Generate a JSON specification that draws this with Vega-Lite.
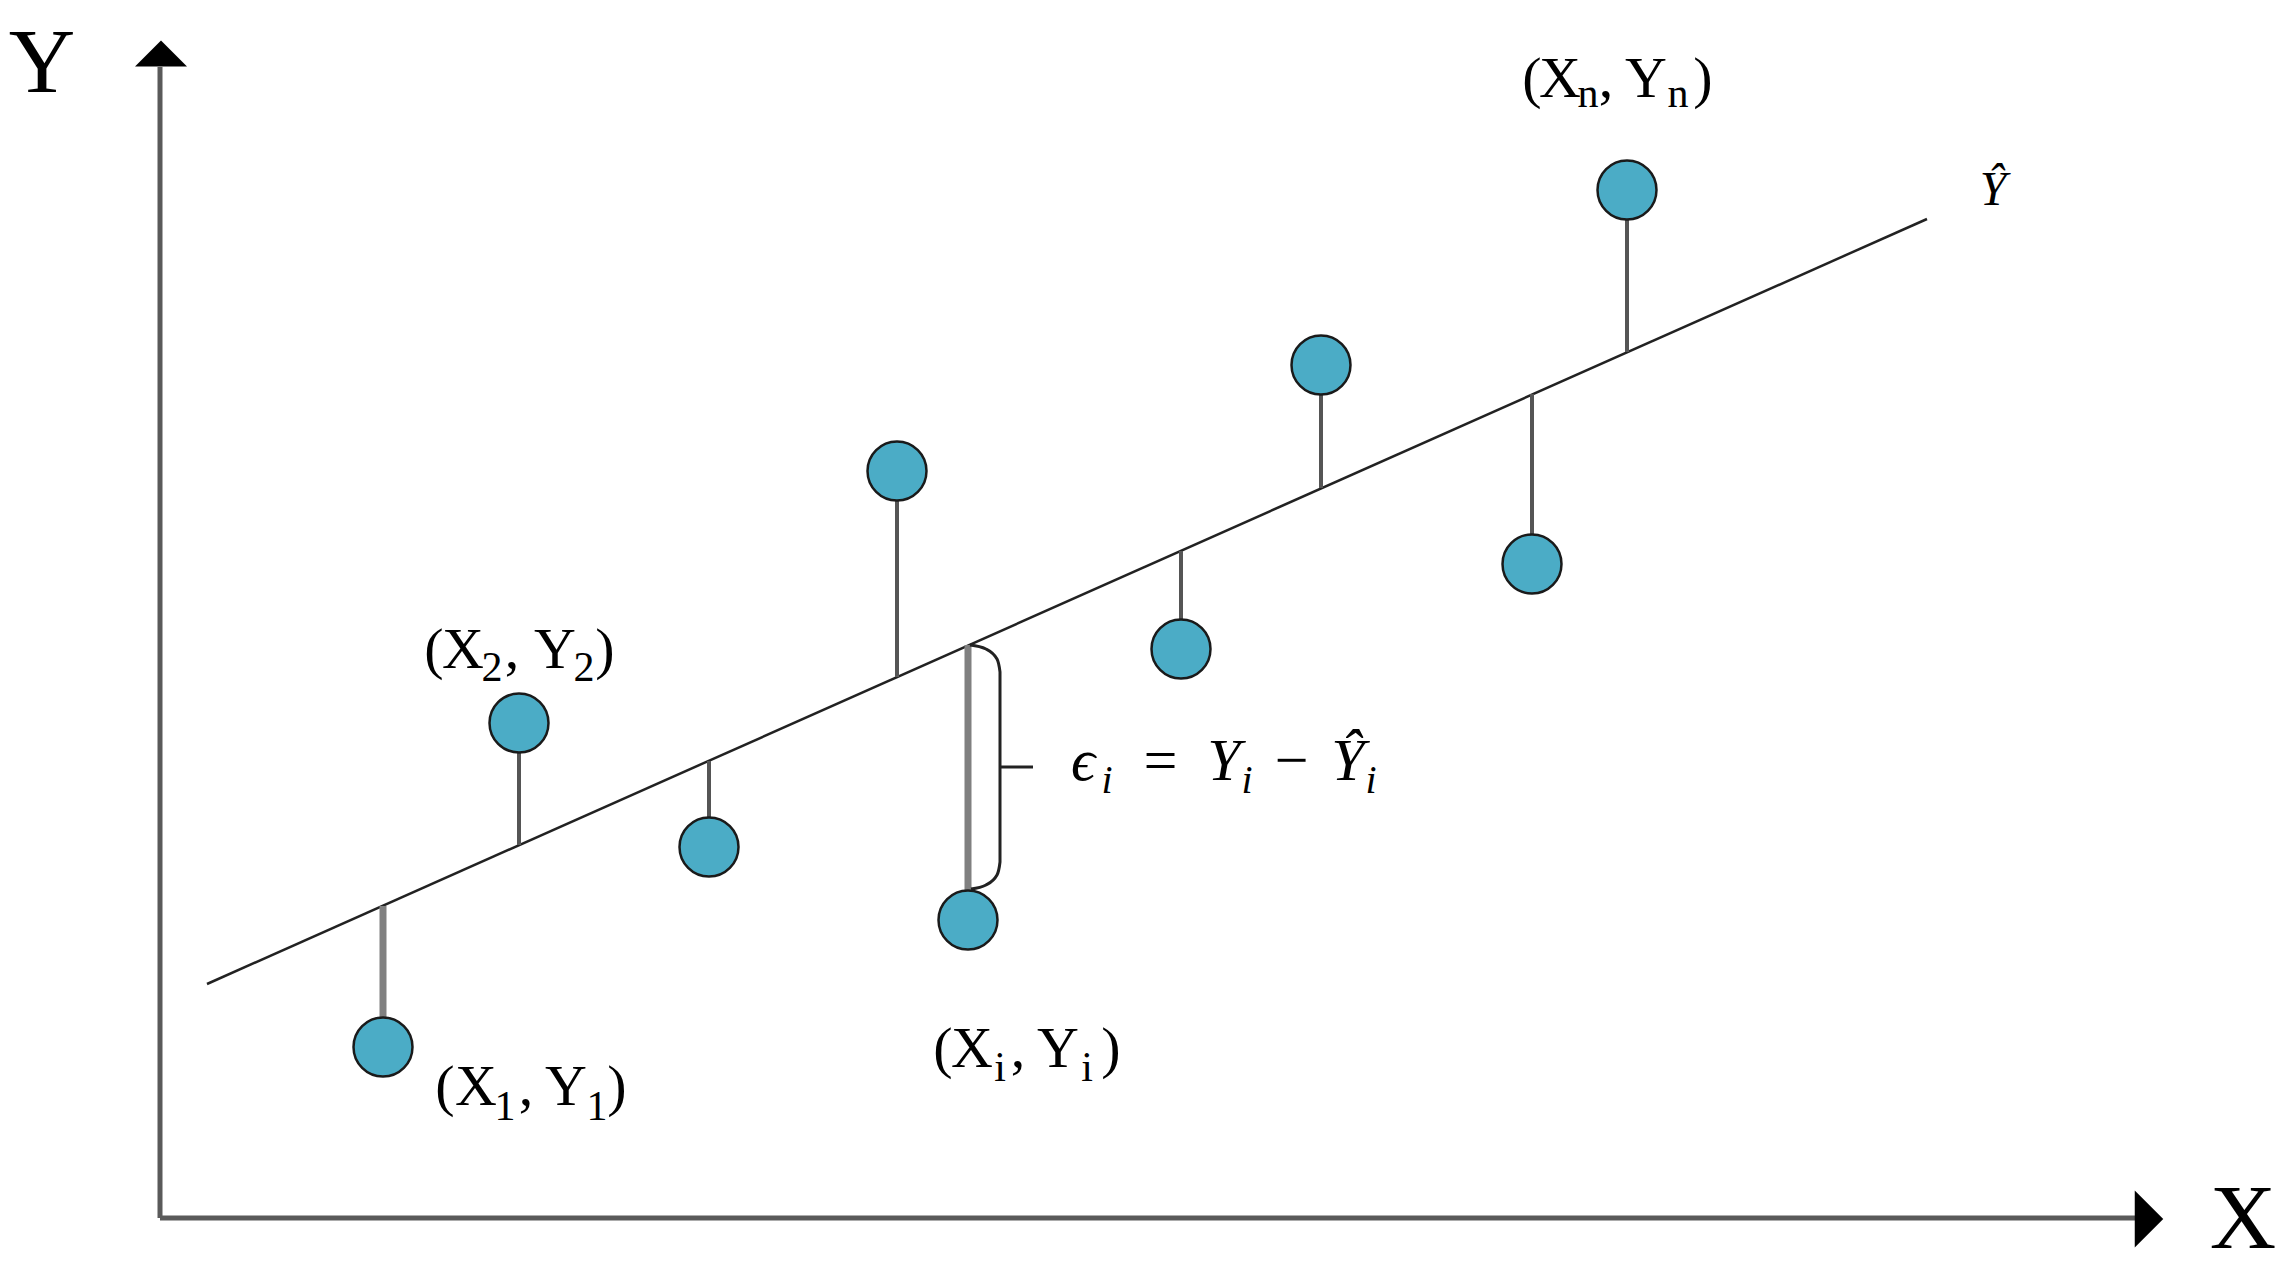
{
  "$schema": "https://vega.github.io/schema/vega-lite/v6.json",
  "width": 2286,
  "height": 1280,
  "padding": 0,
  "autosize": {"type": "fit", "contains": "padding"},
  "background": "white",
  "config": {"view": {"stroke": null}},
  "datasets": {
    "pts": [
      {"name": "1", "x": 22.3, "y": 17.1, "fit": 31.2},
      {"name": "2", "x": 35.9, "y": 49.5, "fit": 37.3},
      {"name": "3", "x": 54.9, "y": 37.1, "fit": 45.7},
      {"name": "4", "x": 73.7, "y": 74.7, "fit": 54.1},
      {"name": "i", "x": 80.8, "y": 29.8, "fit": 57.3},
      {"name": "6", "x": 102.1, "y": 56.9, "fit": 66.7},
      {"name": "7", "x": 116.1, "y": 85.3, "fit": 73.0},
      {"name": "8", "x": 137.2, "y": 65.4, "fit": 82.4},
      {"name": "n", "x": 146.7, "y": 102.8, "fit": 86.6}
    ],
    "fitline": [
      {"x": 4.7, "y": 23.4},
      {"x": 176.7, "y": 99.9}
    ],
    "axes": [
      {"axis": "Y", "x": 0, "y": 0, "x2": 0, "y2": 115.1},
      {"axis": "X", "x": 0, "y": 0, "x2": 197.5, "y2": 0}
    ],
    "upArrow": [{"x": 0.1, "y": 116.45}],
    "rightArrow": [{"x": 198.9, "y": -0.1}],
    "bracket": [
      {"k": 1, "x": 81.0, "y": 57.3},
      {"k": 2, "x": 82.6, "y": 56.9},
      {"k": 3, "x": 83.7, "y": 55.9},
      {"k": 4, "x": 84.0, "y": 54.6},
      {"k": 5, "x": 84.0, "y": 35.6},
      {"k": 6, "x": 83.7, "y": 34.3},
      {"k": 7, "x": 82.6, "y": 33.3},
      {"k": 8, "x": 81.1, "y": 32.9}
    ],
    "tick": [{"x": 84.0, "x2": 87.3, "y": 45.1}],
    "labelText": [
      {"label": "1", "text": "(", "x": 28.5, "y": 11.3},
      {"label": "1", "text": "X", "x": 31.6, "y": 11.3},
      {"label": "1", "text": ",", "x": 36.6, "y": 11.3},
      {"label": "1", "text": "Y", "x": 40.6, "y": 11.3},
      {"label": "1", "text": ")", "x": 45.7, "y": 11.3},
      {"label": "2", "text": "(", "x": 27.4, "y": 55.0},
      {"label": "2", "text": "X", "x": 30.3, "y": 55.0},
      {"label": "2", "text": ",", "x": 35.2, "y": 55.0},
      {"label": "2", "text": "Y", "x": 39.5, "y": 55.0},
      {"label": "2", "text": ")", "x": 44.5, "y": 55.0},
      {"label": "i", "text": "(", "x": 78.3, "y": 15.1},
      {"label": "i", "text": "X", "x": 81.2, "y": 15.1},
      {"label": "i", "text": ",", "x": 85.8, "y": 15.1},
      {"label": "i", "text": "Y", "x": 89.8, "y": 15.1},
      {"label": "i", "text": ")", "x": 95.1, "y": 15.1},
      {"label": "n", "text": "(", "x": 137.2, "y": 112.1},
      {"label": "n", "text": "X", "x": 140.0, "y": 112.1},
      {"label": "n", "text": ",", "x": 144.6, "y": 112.1},
      {"label": "n", "text": "Y", "x": 148.6, "y": 112.1},
      {"label": "n", "text": ")", "x": 154.3, "y": 112.1}
    ],
    "labelSub": [
      {"label": "1", "text": "1", "x": 34.5, "y": 9.8},
      {"label": "1", "text": "1", "x": 43.7, "y": 9.8},
      {"label": "2", "text": "2", "x": 33.2, "y": 53.7},
      {"label": "2", "text": "2", "x": 42.4, "y": 53.7},
      {"label": "i", "text": "i", "x": 84.0, "y": 13.7},
      {"label": "i", "text": "i", "x": 92.7, "y": 13.7},
      {"label": "n", "text": "n", "x": 142.8, "y": 111.1},
      {"label": "n", "text": "n", "x": 151.8, "y": 111.1}
    ],
    "axisTitles": [
      {"text": "Y", "x": -11.8, "y": 112.6},
      {"text": "X", "x": 208.3, "y": -3.0}
    ],
    "yhat": [{"text": "Ŷ", "x": 183.3, "y": 101.3}],
    "formulaText": [
      {"text": "ϵ", "x": 92.3, "y": 43.8},
      {"text": "=", "x": 100.0, "y": 43.8},
      {"text": "Y", "x": 106.4, "y": 43.8},
      {"text": "−", "x": 113.1, "y": 43.8},
      {"text": "Ŷ", "x": 118.8, "y": 43.8}
    ],
    "formulaSub": [
      {"text": "i", "x": 94.7, "y": 42.5},
      {"text": "i", "x": 108.7, "y": 42.5},
      {"text": "i", "x": 121.1, "y": 42.5}
    ]
  },
  "encoding": {
    "x": {"field": "x", "type": "quantitative", "scale": {"domain": [-16, 212.6], "nice": false, "zero": false}, "axis": null},
    "y": {"field": "y", "type": "quantitative", "scale": {"domain": [-6.2, 121.8], "nice": false, "zero": false}, "axis": null}
  },
  "layer": [
    {
      "data": {"name": "axes"},
      "mark": {"type": "rule", "color": "#5a5a5a", "strokeWidth": 5},
      "encoding": {"x2": {"field": "x2"}, "y2": {"field": "y2"}}
    },
    {
      "data": {"name": "upArrow"},
      "mark": {"type": "point", "shape": "M0,-0.5L1,0.5L-1,0.5Z", "filled": true, "color": "#000000", "opacity": 1, "size": 2704}
    },
    {
      "data": {"name": "rightArrow"},
      "mark": {"type": "point", "shape": "M0.5,0L-0.5,-1L-0.5,1Z", "filled": true, "color": "#000000", "opacity": 1, "size": 3249}
    },
    {
      "data": {"name": "fitline"},
      "mark": {"type": "line", "color": "#222222", "strokeWidth": 2.5},
      "encoding": {}
    },
    {
      "data": {"name": "pts"},
      "mark": {"type": "rule", "color": "#555555", "strokeWidth": 4},
      "encoding": {"y2": {"field": "fit"}}
    },
    {
      "data": {"name": "pts"},
      "transform": [{"filter": "datum.name === 'i' || datum.name === '1'"}],
      "mark": {"type": "rule", "color": "#808080", "strokeWidth": 7},
      "encoding": {"y2": {"field": "fit"}}
    },
    {
      "data": {"name": "bracket"},
      "mark": {"type": "line", "color": "#222222", "strokeWidth": 3, "interpolate": "monotone"},
      "encoding": {"order": {"field": "k", "type": "quantitative"}}
    },
    {
      "data": {"name": "tick"},
      "mark": {"type": "rule", "color": "#222222", "strokeWidth": 3},
      "encoding": {"x2": {"field": "x2"}}
    },
    {
      "data": {"name": "pts"},
      "mark": {"type": "point", "shape": "circle", "filled": true, "fill": "#4BACC6", "stroke": "#1a1a1a", "strokeWidth": 2.5, "opacity": 1, "fillOpacity": 1, "size": 3480}
    },
    {
      "data": {"name": "labelText"},
      "mark": {"type": "text", "font": "Liberation Serif", "fontSize": 58, "color": "#000000", "align": "center", "baseline": "alphabetic"},
      "encoding": {"text": {"field": "text"}}
    },
    {
      "data": {"name": "labelSub"},
      "mark": {"type": "text", "font": "Liberation Serif", "fontSize": 42, "color": "#000000", "align": "center", "baseline": "alphabetic"},
      "encoding": {"text": {"field": "text"}}
    },
    {
      "data": {"name": "axisTitles"},
      "mark": {"type": "text", "font": "Liberation Serif", "fontSize": 92, "color": "#000000", "align": "center", "baseline": "alphabetic"},
      "encoding": {"text": {"field": "text"}}
    },
    {
      "data": {"name": "yhat"},
      "mark": {"type": "text", "font": "Liberation Serif", "fontStyle": "italic", "fontSize": 48, "color": "#000000", "align": "center", "baseline": "alphabetic"},
      "encoding": {"text": {"field": "text"}}
    },
    {
      "data": {"name": "formulaText"},
      "mark": {"type": "text", "font": "'Liberation Serif', 'DejaVu Serif', serif", "fontStyle": "italic", "fontSize": 60, "color": "#000000", "align": "center", "baseline": "alphabetic"},
      "encoding": {"text": {"field": "text"}}
    },
    {
      "data": {"name": "formulaSub"},
      "mark": {"type": "text", "font": "Liberation Serif", "fontStyle": "italic", "fontSize": 40, "color": "#000000", "align": "center", "baseline": "alphabetic"},
      "encoding": {"text": {"field": "text"}}
    }
  ]
}
